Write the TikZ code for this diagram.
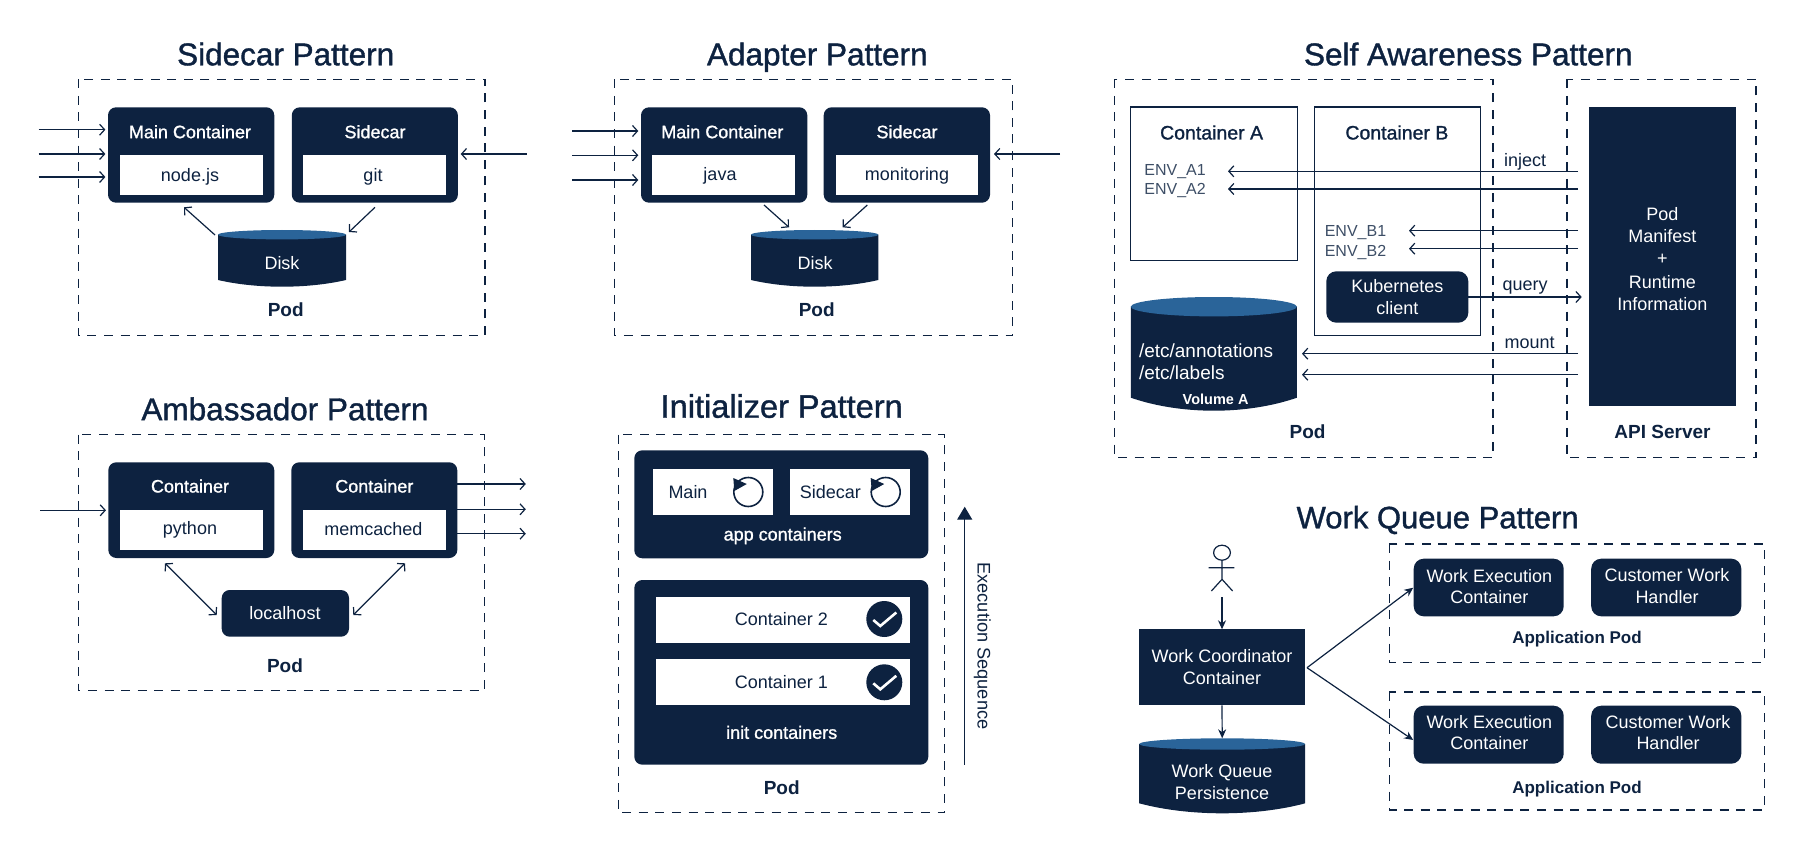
\documentclass[tikz,border=0pt]{standalone}
\usepackage{fontspec}
\setmainfont{Liberation Sans}
\newfontfamily\medfont[FakeBold=1.2]{Liberation Sans}
\usetikzlibrary{arrows.meta, fit}

\definecolor{navy}{HTML}{0D2240}
\definecolor{capblue}{HTML}{2A6499}

\tikzset{
    heading/.style={text=navy, inner sep=0pt, text height=22pt, text depth=0pt, font=\medfont\fontsize{31.5}{36}\selectfont},
    podlabel/.style={text=navy, inner sep=0pt, text height=13.5pt, text depth=0pt, font=\bfseries\fontsize{19}{22}\selectfont},
    applabel/.style={text=navy, inner sep=0pt, text height=12pt, text depth=0pt, font=\bfseries\fontsize{17}{20}\selectfont},
    podframe/.style={draw=navy, line width=1.3pt, dash pattern=on 9pt off 7.6pt},
    darkbox/.style={fill=navy, rounded corners=8pt, inner sep=0pt, outer sep=0pt},
    squarebox/.style={darkbox, rounded corners=0pt},
    slotbox/.style={fill=white, inner sep=0pt, outer sep=0pt},
    linebox/.style={draw=navy, line width=1.2pt, inner sep=0pt, outer sep=0pt},
    boxhead/.style={text=white, inner sep=0pt, text height=13pt, text depth=0pt, font=\medfont\fontsize{18}{21}\selectfont},
    boxtext/.style={text=white, inner sep=0pt, text height=13pt, text depth=0pt, font=\fontsize{18}{21.7}\selectfont},
    boxlines/.style={text=white, inner sep=0pt, align=center, font=\fontsize{18}{21.7}\selectfont},
    plaintext/.style={text=navy, inner sep=0pt, text height=13pt, text depth=0pt, font=\fontsize{18}{21}\selectfont},
    envtext/.style={text=navy!80, anchor=west, inner sep=0pt, text height=12pt, text depth=0pt, font=\fontsize{16}{20}\selectfont},
    flow/.style={->, >={Straight Barb[length=5pt, width=11pt]}, draw=navy, line width=1.2pt},
    twoway/.style={<->, >={Straight Barb[length=5pt, width=11pt]}, draw=navy, line width=1.2pt},
    solidflow/.style={->, >={Stealth[length=9pt, width=8pt]}, draw=navy, line width=1.2pt}
}

% name, left, top, right, bottom, cap radius, bulge
\newcommand{\drum}[7]{
    \node[inner sep=0pt, outer sep=0pt, fit={(#2,#3) (#4,#5)}] (#1) {};
    \fill[navy] (#2,{#3+#6}) -- (#2,{#5-#7}) .. controls ({#2+(#4-#2)*.3},{#5+#7/3}) and ({#4-(#4-#2)*.3},{#5+#7/3}) .. (#4,{#5-#7}) -- (#4,{#3+#6}) -- cycle;
    \fill[capblue] ({(#2+#4)/2},{#3+#6}) ellipse [x radius={(#4-#2)/2}, y radius=#6];
}
% restart icon in the app containers
\newcommand{\restart}[2]{
    \draw[navy, line width=1.6pt] (#1,#2) circle [radius=14.5];
    \fill[navy] ({#1-15},{#2-14}) -- ({#1-1.5},{#2-8}) -- ({#1-14},{#2-1}) -- cycle;
}
% tick on a dark disc in the init containers
\newcommand{\donemark}[2]{
    \fill[navy] (#1,#2) circle [radius=18];
    \draw[white, line width=2.6pt] ({#1-11},{#2+1}) -- ({#1-4},{#2+7}) -- ({#1+12},{#2-6.5});
}

\begin{document}
\begin{tikzpicture}[x=1pt, y=-1pt, >=Stealth]
    \useasboundingbox (0,0) rectangle (1804,853);

    % Sidecar Pattern
    \node[heading] (sideTitle) at (285.7,54.3) {Sidecar Pattern};
    \draw[podframe] (78.2,79.3) rectangle (485,335.7);
    \node[darkbox, fit={(108,107.3) (274.3,202.7)}] (sideMain) {};
    \node[slotbox, fit={(120.4,155) (262.5,195)}] (sideNode) {};
    \node[plaintext] (sideNodeText) at (190,175) {node.js};
    \node[boxhead] (sideMainHead) at (190,131.7) {Main Container};
    \node[darkbox, fit={(291.8,107.3) (457.9,202.7)}] (sideCar) {};
    \node[slotbox, fit={(303.2,155) (446,195)}] (sideGit) {};
    \node[plaintext] (sideGitText) at (373,175) {git};
    \node[boxhead] (sideCarHead) at (375,131.7) {Sidecar};
    \drum{sideDisk}{218}{230}{346}{286.7}{4.7}{6.7}
    \node[boxtext] (sideDiskText) at (282,263.3) {Disk};
    \node[podlabel] (sidePod) at (285.7,310) {Pod};
    \coordinate (sideIn1) at (38.6,129.7);
    \coordinate (sideIn2) at (38.6,154);
    \coordinate (sideIn3) at (38.6,177);
    \coordinate (sideIn4) at (526.8,154);
    \draw[flow, shorten >=2.6pt] (sideIn1) -- (sideIn1 -| sideMain.west);
    \draw[flow, shorten >=2.6pt] (sideIn2) -- (sideIn2 -| sideMain.west);
    \draw[flow, shorten >=2.6pt] (sideIn3) -- (sideIn3 -| sideMain.west);
    \draw[flow, shorten >=2.8pt] (sideIn4) -- (sideIn4 -| sideCar.east);
    \coordinate (sideRead) at (184,207.3);
    \coordinate (sideReadFrom) at (215,235);
    \coordinate (sideWrite) at (349,232);
    \coordinate (sideWriteFrom) at (375,207.3);
    \draw[flow] (sideReadFrom) -- (sideRead);
    \draw[flow] (sideWriteFrom) -- (sideWrite);

    % Adapter Pattern
    \node[heading] (adaptTitle) at (817.3,54.3) {Adapter Pattern};
    \draw[podframe] (614.7,79.3) rectangle (1012.7,335.7);
    \node[darkbox, fit={(641,107.3) (807.3,202.7)}] (adaptMain) {};
    \node[slotbox, fit={(652.3,155) (795.3,195)}] (adaptJava) {};
    \node[plaintext] (adaptJavaText) at (720,174) {java};
    \node[boxhead] (adaptMainHead) at (722.3,131.7) {Main Container};
    \node[darkbox, fit={(823.7,107.3) (990,202.7)}] (adaptCar) {};
    \node[slotbox, fit={(835.7,155) (978.3,195)}] (adaptMon) {};
    \node[plaintext] (adaptMonText) at (907,174) {monitoring};
    \node[boxhead] (adaptCarHead) at (907,131.7) {Sidecar};
    \drum{adaptDisk}{751}{230}{878.3}{286.7}{4.7}{6.7}
    \node[boxtext] (adaptDiskText) at (815,263.3) {Disk};
    \node[podlabel] (adaptPod) at (816.7,310) {Pod};
    \coordinate (adaptIn1) at (572,131);
    \coordinate (adaptIn2) at (572,155.3);
    \coordinate (adaptIn3) at (572,180);
    \coordinate (adaptIn4) at (1060,154);
    \draw[flow, shorten >=2.7pt] (adaptIn1) -- (adaptIn1 -| adaptMain.west);
    \draw[flow, shorten >=2.7pt] (adaptIn2) -- (adaptIn2 -| adaptMain.west);
    \draw[flow, shorten >=2.7pt] (adaptIn3) -- (adaptIn3 -| adaptMain.west);
    \draw[flow, shorten >=4pt] (adaptIn4) -- (adaptIn4 -| adaptCar.east);
    \coordinate (adaptLeftFrom) at (764,205);
    \coordinate (adaptLeftTo) at (789,227.3);
    \coordinate (adaptRightFrom) at (867.3,205);
    \coordinate (adaptRightTo) at (842.7,227.3);
    \draw[flow] (adaptLeftFrom) -- (adaptLeftTo);
    \draw[flow] (adaptRightFrom) -- (adaptRightTo);

    % Ambassador Pattern
    \node[heading] (ambTitle) at (285,409.2) {Ambassador Pattern};
    \draw[podframe] (78.3,434.7) rectangle (484.3,690.7);
    \node[darkbox, fit={(108.3,462.3) (274.3,558)}] (ambLeft) {};
    \node[slotbox, fit={(120,510) (262.7,550)}] (ambPython) {};
    \node[plaintext] (ambPythonText) at (190,528) {python};
    \node[boxhead] (ambLeftHead) at (190,486) {Container};
    \node[darkbox, fit={(291.3,462.3) (457.3,558)}] (ambRight) {};
    \node[slotbox, fit={(303,510) (445.7,550)}] (ambCache) {};
    \node[plaintext] (ambCacheText) at (373.3,528.5) {memcached};
    \node[boxhead] (ambRightHead) at (374.3,486) {Container};
    \node[darkbox, fit={(221.7,590) (349,636.7)}] (ambHost) {};
    \node[boxtext] (ambHostText) at (285,612.7) {localhost};
    \node[podlabel] (ambPod) at (285,665.7) {Pod};
    \coordinate (ambIn) at (40,510.3);
    \draw[flow, shorten >=2.3pt] (ambIn) -- (ambIn -| ambLeft.west);
    \coordinate (ambOut1) at (525.8,484);
    \coordinate (ambOut2) at (525.8,509.3);
    \coordinate (ambOut3) at (525.8,533.7);
    \draw[flow] (ambOut1 -| ambRight.east) -- (ambOut1);
    \draw[flow] (ambOut2 -| ambRight.east) -- (ambOut2);
    \draw[flow] (ambOut3 -| ambRight.east) -- (ambOut3);
    \coordinate (ambLeftEnd) at (165,563.3);
    \coordinate (ambHostLeft) at (216.7,615);
    \coordinate (ambRightEnd) at (405,563.3);
    \coordinate (ambHostRight) at (353.3,615);
    \draw[twoway] (ambLeftEnd) -- (ambHostLeft);
    \draw[twoway] (ambRightEnd) -- (ambHostRight);

    % Initializer Pattern
    \node[heading, font=\medfont\fontsize{32.5}{36}\selectfont] (initTitle) at (781.7,406.7) {Initializer Pattern};
    \draw[podframe] (618.3,434.7) rectangle (944.3,812.7);
    \node[darkbox, fit={(634.3,450.3) (928.3,558.3)}] (initApp) {};
    \node[slotbox, fit={(652.7,469) (773,515)}] (initMain) {};
    \node[plaintext] (initMainText) at (688,491.7) {Main};
    \restart{748.3}{492}
    \node[slotbox, fit={(790,469) (910,515)}] (initCar) {};
    \node[plaintext] (initCarText) at (830.3,491.7) {Sidecar};
    \restart{885.7}{492}
    \node[boxhead] (initAppText) at (782.7,534) {app containers};
    \node[darkbox, fit={(634.3,580) (928.3,764.7)}] (initInit) {};
    \node[slotbox, fit={(655.7,597) (910,642.7)}] (initTwo) {};
    \node[plaintext] (initTwoText) at (781.3,619) {Container 2};
    \donemark{884.3}{619}
    \node[slotbox, fit={(655.7,659.3) (910,705.3)}] (initOne) {};
    \node[plaintext] (initOneText) at (781.3,682) {Container 1};
    \donemark{884.3}{682.3}
    \node[boxhead] (initInitText) at (781.7,732.3) {init containers};
    \node[podlabel] (initPod) at (781.7,787.3) {Pod};
    \coordinate (seqStart) at (964.7,764.7);
    \coordinate (seqEnd) at (964.7,506.7);
    \draw[->, >={Stealth[length=13pt, width=15pt, inset=0pt]}, draw=navy, fill=navy, line width=1.3pt] (seqStart) -- (seqEnd);
    \node[plaintext, rotate=-90, font=\fontsize{18.2}{21}\selectfont] (seqText) at (984,646) {Execution Sequence};

    % Self Awareness Pattern
    \node[heading] (selfTitle) at (1468.3,54.3) {Self Awareness Pattern};
    \draw[podframe] (1114.7,79.3) rectangle (1492.9,457.7);
    \draw[podframe] (1567,79.3) rectangle (1756,457.7);
    \node[linebox, fit={(1130.8,107) (1297.3,260.7)}] (contA) {};
    \node[linebox, fit={(1314.3,107) (1480.8,335.7)}] (contB) {};
    \node[plaintext, font=\medfont\fontsize{19.5}{21}\selectfont] (contAHead) at (1211.6,133) {Container A};
    \node[plaintext, font=\medfont\fontsize{19.5}{21}\selectfont] (contBHead) at (1396.9,133) {Container B};
    \node[envtext] (envA1) at (1144.2,169.2) {ENV\_A1};
    \node[envtext] (envA2) at (1144.2,188.8) {ENV\_A2};
    \node[envtext] (envB1) at (1324.6,230.5) {ENV\_B1};
    \node[envtext] (envB2) at (1324.6,250) {ENV\_B2};
    \node[darkbox, rounded corners=10pt, fit={(1326.3,271.3) (1468.3,322.7)}] (kubeClient) {};
    \node[boxlines] (kubeText) at (kubeClient) {Kubernetes\\client};
    \drum{volA}{1130.8}{297}{1296.9}{410.7}{9.7}{13}
    \node[boxtext, anchor=west, font=\fontsize{19}{22}\selectfont] (volEtcA) at (1138.8,351.3) {/etc/annotations};
    \node[boxtext, anchor=west, font=\fontsize{19}{22}\selectfont] (volEtcL) at (1138.8,372.7) {/etc/labels};
    \node[boxtext, text height=10.5pt, font=\bfseries\fontsize{14.5}{17}\selectfont] (volName) at (1215.6,399) {Volume A};
    \node[podlabel] (selfPod) at (1307.6,432.2) {Pod};
    \node[squarebox, fit={(1588.8,107.3) (1735.7,405.7)}] (apiBox) {};
    \node[boxtext] (apiPod) at (1662.3,214.5) {Pod};
    \node[boxtext] (apiManifest) at (1662.3,236.2) {Manifest};
    \node[boxtext] (apiPlus) at (1662.3,258.2) {+};
    \node[boxtext] (apiRuntime) at (1662.3,281.8) {Runtime};
    \node[boxtext] (apiInfo) at (1662.3,303.5) {Information};
    \node[podlabel] (apiLabel) at (1662.5,432.2) {API Server};
    \coordinate (pinA1) at (1228,171.3);
    \coordinate (pinA2) at (1228,189);
    \coordinate (pinB1) at (1409,230.7);
    \coordinate (pinB2) at (1409,248.7);
    \coordinate (pinV1) at (1302,353.7);
    \coordinate (pinV2) at (1302,374.7);
    \coordinate (pinQuery) at (1581.7,297);
    \draw[flow, shorten <=10.8pt] (pinA1 -| apiBox.west) -- (pinA1);
    \draw[flow, shorten <=10.8pt] (pinA2 -| apiBox.west) -- (pinA2);
    \draw[flow, shorten <=10.8pt] (pinB1 -| apiBox.west) -- (pinB1);
    \draw[flow, shorten <=10.8pt] (pinB2 -| apiBox.west) -- (pinB2);
    \draw[flow, shorten <=10.8pt] (pinV1 -| apiBox.west) -- (pinV1);
    \draw[flow, shorten <=10.8pt] (pinV2 -| apiBox.west) -- (pinV2);
    \draw[flow] (pinQuery -| kubeClient.east) -- (pinQuery);
    \node[plaintext] (injectText) at (1525,160) {inject};
    \node[plaintext] (queryText) at (1525,284) {query};
    \node[plaintext] (mountText) at (1529.5,341.5) {mount};

    % Work Queue Pattern
    \node[heading, font=\medfont\fontsize{31}{36}\selectfont] (workTitle) at (1437.6,517.3) {Work Queue Pattern};
    \draw[navy, line width=1.2pt] (1222,552.7) circle [x radius=8.4, y radius=7.5];
    \draw[navy, line width=1.2pt] (1222,560.2) -- (1222,579.3) (1208.7,567.7) -- (1234.4,567.7) (1211.4,591) -- (1222,579.3) -- (1232.6,591);
    \coordinate (workUser) at (1222,597.3);
    \node[squarebox, fit={(1138.8,629.3) (1305.2,705.3)}] (workCoord) {};
    \node[boxlines] (workCoordText) at (workCoord) {Work Coordinator\\Container};
    \drum{workStore}{1139.2}{738.3}{1305.2}{813.3}{5.7}{10}
    \node[boxlines] (workStoreText) at (1222,782) {Work Queue\\Persistence};
    \draw[podframe] (1389.3,544) rectangle (1764.3,662.7);
    \draw[podframe] (1389.3,692) rectangle (1764.3,810);
    \node[darkbox, rounded corners=10pt, fit={(1413.7,558.7) (1563.7,616.3)}] (workExecA) {};
    \node[boxlines] (workExecAText) at (1489.4,586.5) {Work Execution\\Container};
    \node[darkbox, rounded corners=10pt, fit={(1591.2,558.7) (1741.3,616.3)}] (workHandlerA) {};
    \node[boxlines] (workHandlerAText) at (1667,586) {Customer Work\\Handler};
    \node[darkbox, rounded corners=10pt, fit={(1413.7,705.7) (1563.7,763.7)}] (workExecB) {};
    \node[boxlines] (workExecBText) at (1489.4,732.7) {Work Execution\\Container};
    \node[darkbox, rounded corners=10pt, fit={(1591.2,705.7) (1741.3,763.7)}] (workHandlerB) {};
    \node[boxlines] (workHandlerBText) at (1668,732.7) {Customer Work\\Handler};
    \node[applabel] (workPodA) at (1577,637) {Application Pod};
    \node[applabel] (workPodB) at (1577,787) {Application Pod};
    \coordinate (workFork) at (1307,667.7);
    \coordinate (workTipA) at (1413.2,587.7);
    \coordinate (workTipB) at (1413.2,740);
    \draw[solidflow] (workUser) -- (workCoord.north);
    \draw[solidflow] (workCoord.south) -- (workStore.north);
    \draw[solidflow] (workFork) -- (workTipA);
    \draw[solidflow] (workFork) -- (workTipB);
\end{tikzpicture}
\end{document}
